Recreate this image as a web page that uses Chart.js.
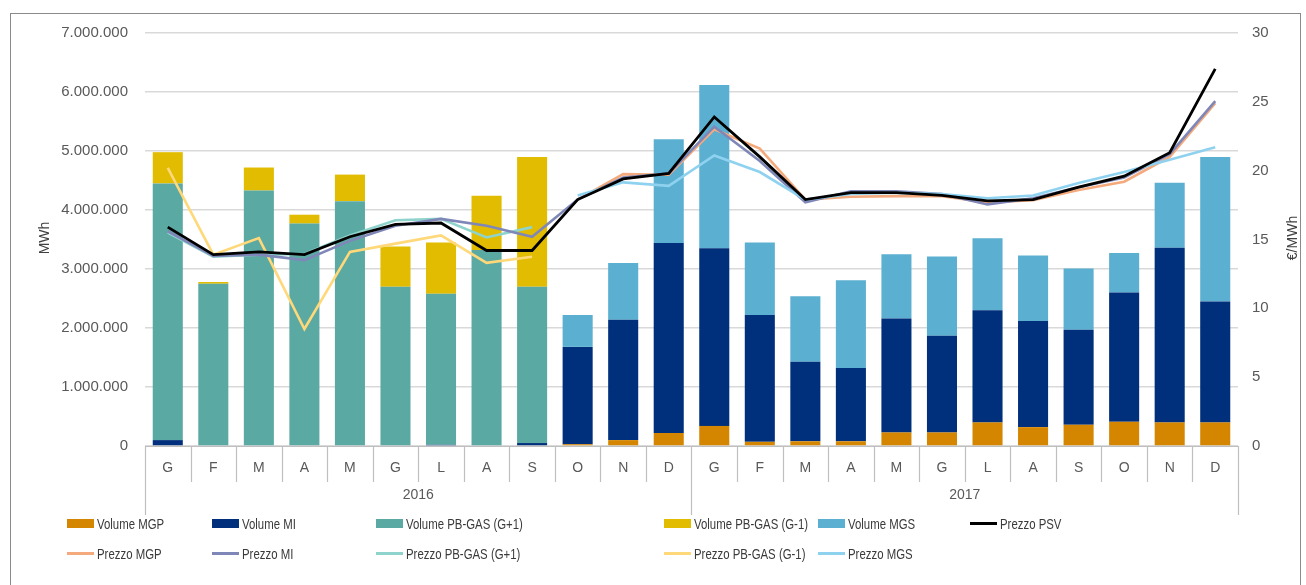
<!DOCTYPE html>
<html><head><meta charset="utf-8">
<script src="https://cdn.jsdelivr.net/npm/chart.js@4.4.1/dist/chart.umd.min.js"></script>
<style>
html,body{margin:0;padding:0;background:#fff;}
#wrap{position:relative;width:1306px;height:585px;overflow:hidden;}
#frame{position:absolute;left:10px;top:13px;width:1291px;height:620px;border:1.5px solid #8a8a8a;box-sizing:border-box;}
canvas{position:absolute;left:0;top:0;}
#legend{position:absolute;left:0;top:0;width:1306px;height:585px;pointer-events:none;font-family:'Liberation Sans',Arial,sans-serif;font-size:15px;color:#3a3a3a;}
.li{position:absolute;display:flex;align-items:center;white-space:nowrap;height:20px;transform:translateY(-50%);}
.sw{display:inline-block;margin-right:3px;flex:none;}
.tx{display:inline-block;transform:scaleX(0.76);transform-origin:0 50%;}
</style></head>
<body>
<div id="wrap">
<div id="frame"></div>
<canvas id="c" width="1306" height="585"></canvas>
<div id="legend"></div>
</div>
<script>
// ---- data ----
const months = ['G','F','M','A','M','G','L','A','S','O','N','D','G','F','M','A','M','G','L','A','S','O','N','D'];
const years = ['2016','2017'];
const volMGP = [0,0,0,0,0,0,0,0,0,30000,100000,220000, 340000,70000,80000,80000,230000,230000,400000,320000,360000,410000,400000,400000];
const volMI = [100000,0,0,0,0,0,20000,0,50000,1650000,2040000,3220000, 3010000,2150000,1350000,1240000,1930000,1640000,1900000,1800000,1610000,2190000,2960000,2050000];
const volPBp = [4350000,2750000,4330000,3770000,4150000,2700000,2560000,3320000,2650000,0,0,0, 0,0,0,0,0,0,0,0,0,0,0,0];
const volPBm = [530000,30000,390000,150000,450000,680000,870000,920000,2200000,0,0,0, 0,0,0,0,0,0,0,0,0,0,0,0];
const volMGS = [0,0,0,0,0,0,0,0,0,540000,960000,1760000, 2770000,1230000,1110000,1490000,1090000,1340000,1220000,1110000,1040000,670000,1100000,2450000];
const prezzoPSV = [15.9,13.9,14.1,13.9,15.2,16.1,16.2,14.2,14.2,17.9,19.4,19.8, 23.9,21.0,17.9,18.4,18.4,18.2,17.8,17.9,18.8,19.6,21.3,27.4];
const prezzoMGP = [null,null,null,null,null,null,null,null,null,17.9,19.75,19.7, 23.0,21.6,17.9,18.1,18.15,18.15,17.7,17.85,18.6,19.2,21.0,24.9];
const prezzoMI = [15.6,13.8,13.9,13.5,14.9,16.0,16.5,16.0,15.2,17.9,19.5,19.8, 23.2,20.7,17.7,18.5,18.5,18.3,17.55,18.0,18.8,19.5,21.2,25.05];
const prezzoPBp = [15.5,13.75,13.9,13.95,15.3,16.4,16.5,15.15,15.9,null,null,null, null,null,null,null,null,null,null,null,null,null,null,null];
const prezzoPBm = [20.2,13.9,15.1,8.5,14.1,14.7,15.3,13.3,13.75,null,null,null, null,null,null,null,null,null,null,null,null,null,null,null];
const prezzoMGS = [null,null,null,null,null,null,null,null,null,18.2,19.15,18.9, 21.1,19.9,17.9,18.3,18.4,18.3,18.0,18.2,19.1,19.9,20.8,21.7];
const leftTicks = [0,1000000,2000000,3000000,4000000,5000000,6000000,7000000];
const rightTicks = [0,5,10,15,20,25,30];

const TXT = '#595959';
const FONT = "'Liberation Sans', Arial, sans-serif";

function bar(label, data, color){
  return {type:'bar', label, data, backgroundColor:color, yAxisID:'y', stack:'vol', order:10,
          barPercentage:0.66, categoryPercentage:1.0, kind:'box'};
}
function line(label, data, color, order, w){
  return {type:'line', label, data, borderColor:color, backgroundColor:color, yAxisID:'y1', order,
          borderWidth:w||2.6, pointRadius:0, tension:0, spanGaps:false, kind:'line'};
}
const datasets = [
  bar('Volume MGP', volMGP, '#D48600'),
  bar('Volume MI', volMI, '#002F7B'),
  bar('Volume PB-GAS (G+1)', volPBp, '#5BA9A3'),
  bar('Volume PB-GAS (G-1)', volPBm, '#E2BC00'),
  bar('Volume MGS', volMGS, '#5BAFD0'),
  line('Prezzo PSV', prezzoPSV, '#000000', 1, 2.8),
  line('Prezzo MGP', prezzoMGP, '#F4AA7C', 4),
  line('Prezzo MI', prezzoMI, '#7F87B8', 3),
  line('Prezzo PB-GAS (G+1)', prezzoPBp, '#8ED4CC', 5),
  line('Prezzo PB-GAS (G-1)', prezzoPBm, '#FFD879', 6),
  line('Prezzo MGS', prezzoMGS, '#8FD2F0', 2)
];

const fmt = v => String(v).replace(/\B(?=(\d{3})+(?!\d))/g,'.');

const decor = {
  id:'decor',
  afterDraw(chart){
    const {ctx, chartArea:a, scales:{x}} = chart;
    const step = x.getPixelForValue(1) - x.getPixelForValue(0);
    const x0 = x.getPixelForValue(0) - step/2;
    ctx.save();
    ctx.strokeStyle = '#BFBFBF';
    ctx.lineWidth = 1.2;
    ctx.beginPath();
    ctx.moveTo(a.left, a.bottom + 0.5); ctx.lineTo(a.right, a.bottom + 0.5);
    for (let i = 0; i <= months.length; i++) {
      const px = Math.round(x0 + i*step) + 0.5;
      const len = (i % 12 === 0) ? 69 : 36;
      ctx.moveTo(px, a.bottom); ctx.lineTo(px, a.bottom + len);
    }
    ctx.stroke();
    ctx.fillStyle = TXT;
    ctx.font = "14px " + FONT;
    ctx.textAlign = 'center'; ctx.textBaseline = 'middle';
    years.forEach((yr, k) => {
      const cx = x0 + (k*12 + 6)*step;
      ctx.fillText(yr, cx, a.bottom + 49);
    });
    ctx.font = "14px " + FONT;
    ctx.fillStyle = '#404040';
    ctx.save(); ctx.translate(45, 238); ctx.rotate(-Math.PI/2); ctx.fillText('MWh', 0, 0); ctx.restore();
    ctx.save(); ctx.translate(1293, 238); ctx.rotate(-Math.PI/2); ctx.fillText('€/MWh', 0, 0); ctx.restore();
    ctx.restore();
  }
};

const chart = new Chart(document.getElementById('c'), {
  data:{labels:months, datasets},
  options:{
    responsive:false, animation:false, devicePixelRatio:1,
    layout:{padding:{top:33,left:0,right:0,bottom:0}},
    plugins:{legend:{display:false}, tooltip:{enabled:false}},
    scales:{
      x:{type:'category', grid:{display:false}, border:{display:false},
         ticks:{color:TXT, font:{family:FONT,size:14}, padding:6, maxRotation:0, autoSkip:false},
         afterFit(s){ s.height = 139; }},
      y:{position:'left', stacked:true, min:0, max:7000000,
         afterBuildTicks(s){ s.ticks = leftTicks.map(v=>({value:v})); },
         ticks:{color:TXT, font:{family:FONT,size:15}, padding:17, callback:v=>fmt(v)},
         grid:{color:'#D9D9D9', lineWidth:1.5, drawTicks:false}, border:{display:false},
         afterFit(s){ s.width = 145; }},
      y1:{position:'right', min:0, max:30,
         afterBuildTicks(s){ s.ticks = rightTicks.map(v=>({value:v})); },
         ticks:{color:TXT, font:{family:FONT,size:15}, padding:14},
         grid:{display:false, drawTicks:false}, border:{display:false},
         afterFit(s){ s.width = 68; }}
    }
  },
  plugins:[decor]
});

// ---- HTML legend ----
const cols = [67, 212, 376, 664, 818, 970];
const rows = [523, 553];
const order = [[0,1,2,3,4,5],[6,7,8,9,10]];
const lg = document.getElementById('legend');
order.forEach((r, ri) => r.forEach((di, ci) => {
  const ds = chart.data.datasets[di];
  const el = document.createElement('div');
  el.className = 'li';
  el.style.left = cols[ci] + 'px';
  el.style.top = rows[ri] + 'px';
  const sw = document.createElement('span');
  sw.className = 'sw';
  sw.style.width = '27px';
  sw.style.height = ds.kind === 'box' ? '9px' : '3px';
  sw.style.background = ds.kind === 'box' ? ds.backgroundColor : ds.borderColor;
  el.appendChild(sw);
  const tx = document.createElement('span');
  tx.className = 'tx';
  tx.textContent = ds.label;
  el.appendChild(tx);
  lg.appendChild(el);
}));
</script>
</body></html>
